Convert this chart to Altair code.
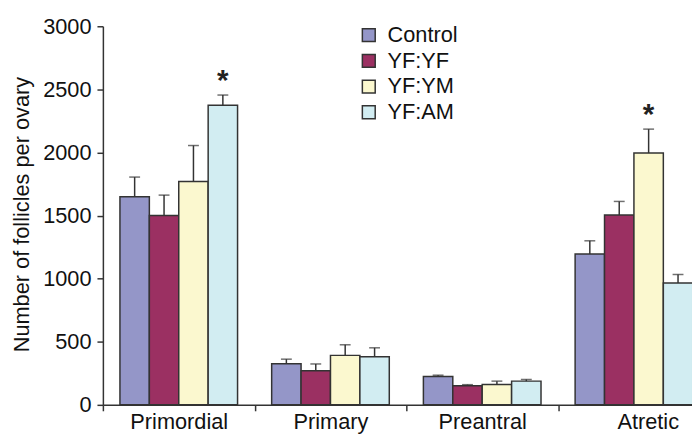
import altair as alt
import pandas as pd

categories = ["Primordial", "Primary", "Preantral", "Atretic"]
groups = ["Control", "YF:YF", "YF:YM", "YF:AM"]
colors = ["#9496c8", "#9b3062", "#fbf8cf", "#d2edf2"]

control = [1650, 325, 225, 1195]
yfyf = [1500, 270, 152, 1505]
yfym = [1770, 392, 162, 1995]
yfam = [2375, 382, 188, 965]

err_control = [155, 37, 10, 105]
err_yfyf = [162, 54, 8, 107]
err_yfym = [285, 84, 26, 190]
err_yfam = [80, 70, 13, 68]

star_category = ["Primordial", "Atretic"]
star_group = ["YF:AM", "YF:YM"]

rows = []
for g, vals, errs in zip(groups, [control, yfyf, yfym, yfam],
                         [err_control, err_yfyf, err_yfym, err_yfam]):
    for c, v, e in zip(categories, vals, errs):
        rows.append({"category": c, "group": g, "value": v, "upper": v + e})
df = pd.DataFrame(rows)

stars = df.merge(pd.DataFrame({"category": star_category, "group": star_group}),
                 on=["category", "group"])
stars["label"] = "*"

x_enc = alt.X(
    "category:N", sort=categories,
    scale=alt.Scale(range=[0, 614], paddingInner=0, paddingOuter=0),
    axis=alt.Axis(
        title=None, labelAngle=0, tickBand="extent", labelFontSize=22,
        labelColor="#111", labelPadding=1, tickSize=6, tickWidth=1.5,
        tickColor="#333", domainColor="#333", domainWidth=1.5,
        labelOffset={"condition": {"test": "datum.value == 'Atretic'", "value": 14}, "value": 0},
    ),
)
xo_enc = alt.XOffset("group:N", sort=groups,
                     scale=alt.Scale(paddingOuter=0.58, paddingInner=0))
y_scale = alt.Scale(domain=[0, 3000], nice=False)

bars = alt.Chart(df).mark_bar(stroke="#333", strokeWidth=1.5).encode(
    x=x_enc,
    xOffset=xo_enc,
    y=alt.Y("value:Q", scale=y_scale,
            axis=alt.Axis(title="Number of follicles per ovary", values=[0, 500, 1000, 1500, 2000, 2500, 3000],
                          format="d",
                          grid=False, labelFontSize=22, labelColor="#111", tickSize=6,
                          tickWidth=1.5, tickColor="#333", domainColor="#333", domainWidth=1.5,
                          labelPadding=6, titleFontSize=22, titleFontWeight="normal",
                          titleColor="#111", titleX=-75, titleY=190,
                          titleBaseline="alphabetic", titleAlign="center", titleAngle=-90)),
    color=alt.Color("group:N", sort=groups,
                    scale=alt.Scale(domain=groups, range=colors),
                    legend=alt.Legend(title=None, orient="none", legendX=258, legendY=-2,
                                      symbolType="square", symbolSize=169,
                                      symbolStrokeColor="#333", symbolStrokeWidth=1.5,
                                      labelFontSize=22, labelColor="#111", labelOffset=8,
                                      rowPadding=4, padding=0)),
)

rules = alt.Chart(df).mark_rule(color="#333", strokeWidth=1.5).encode(
    x=alt.X("category:N", sort=categories),
    xOffset=alt.XOffset("group:N", sort=groups),
    y=alt.Y("value:Q"),
    y2="upper:Q",
)

caps = alt.Chart(df).mark_tick(color="#333", thickness=1.5, size=11).encode(
    x=alt.X("category:N", sort=categories),
    xOffset=alt.XOffset("group:N", sort=groups),
    y=alt.Y("upper:Q"),
)

star_text = alt.Chart(stars).mark_text(fontSize=30, fontWeight="bold", color="#222",
                                       baseline="alphabetic", dy=-5).encode(
    x=alt.X("category:N", sort=categories),
    xOffset=alt.XOffset("group:N", sort=groups),
    y=alt.Y("upper:Q"),
    text="label:N",
)

chart = alt.layer(bars, rules, caps, star_text).properties(
    width=596, height=383,
    autosize=alt.AutoSizeParams(type="none"),
    padding={"left": 96, "top": 16, "right": 0, "bottom": 27},
).configure(font="Liberation Sans").configure_view(strokeWidth=0)

chart.save("out.html", embed_options={"renderer": "svg", "actions": False})
